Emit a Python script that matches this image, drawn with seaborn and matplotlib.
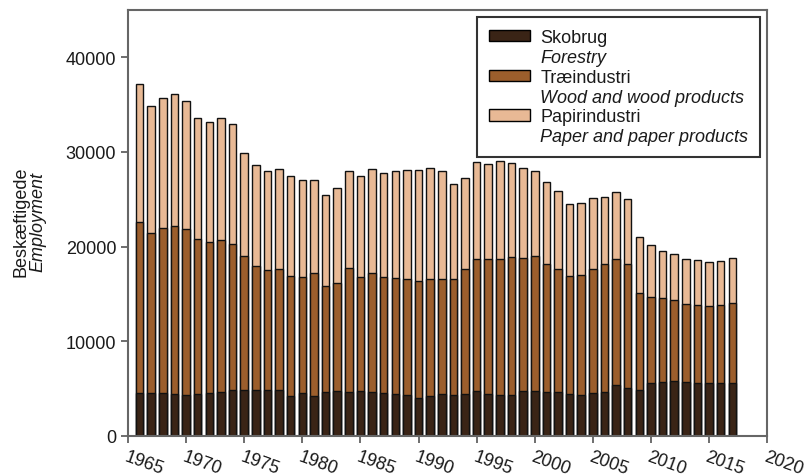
import numpy as np
import pandas as pd
import matplotlib
matplotlib.use("Agg")
import matplotlib.pyplot as plt
import seaborn as sns
from matplotlib.patches import Patch

years = list(range(1966, 2018))

# employment per sector (stacked components)
forestry = [4550, 4530, 4530, 4410, 4300, 4410, 4530, 4620, 4800, 4900,
            4800, 4870, 4870, 4270, 4550, 4270, 4660, 4730, 4660, 4730,
            4620, 4550, 4440, 4340, 4020, 4230, 4440, 4340, 4440, 4730,
            4440, 4340, 4340, 4730, 4730, 4620, 4620, 4440, 4340, 4510,
            4620, 5330, 5040, 4900, 5570, 5710, 5780, 5710, 5640, 5570,
            5610, 5610]
wood = [18100, 16920, 17480, 17810, 17530, 16440, 16000, 16090, 15480, 14110,
        13190, 12700, 12770, 12660, 12240, 12950, 11210, 11420, 13080, 12060,
        12560, 12200, 12210, 12270, 12310, 12310, 12100, 12270, 13200, 14000,
        14290, 14320, 14530, 14110, 14320, 13580, 13030, 12490, 12700, 13130,
        13510, 13330, 13130, 10200, 9140, 8820, 8540, 8260, 8190, 8150,
        8220, 8430]
paper = [14490, 13400, 13680, 13900, 13580, 12730, 12620, 12870, 12630, 10900,
         10610, 10400, 10540, 10550, 10230, 9870, 9630, 10000, 10200, 10690,
         11040, 11010, 11290, 11470, 11780, 11750, 11400, 10020, 9630, 10160,
         10020, 10370, 9950, 9450, 8990, 8660, 8240, 7620, 7580, 7510,
         7060, 7090, 6840, 5960, 5430, 5010, 4900, 4690, 4790, 4690,
         4650, 4800]

labels_dk = ["Skobrug", "Træindustri", "Papirindustri"]
labels_en = ["Forestry", "Wood and wood products", "Paper and paper products"]
colors = ["#3a2416", "#9c5e2c", "#e8b995"]

df = pd.DataFrame({"year": years, "forestry": forestry, "wood": wood, "paper": paper})
df["wood_top"] = df["forestry"] + df["wood"]
df["total"] = df["wood_top"] + df["paper"]

sns.set_style("white")
plt.rcParams["font.family"] = ["Liberation Sans", "DejaVu Sans"]
plt.rcParams["text.color"] = "#1a1a1a"

fig = plt.figure(figsize=(8.05, 4.77), dpi=100)
ax = fig.add_axes([0.159, 0.084, 0.794, 0.893])

for col, c in zip(["total", "wood_top", "forestry"], colors[::-1]):
    sns.barplot(data=df, x="year", y=col, native_scale=True, width=0.65,
                color=c, edgecolor="#111111", linewidth=1, saturation=1, ax=ax)

ax.set_xlim(1965, 2020)
ax.set_ylim(0, 45000)
ax.set_xticks(range(1965, 2021, 5))
ax.set_yticks(range(0, 40001, 10000))
ax.set_xlabel("")
ax.set_ylabel("")
ax.tick_params(axis="both", direction="out", length=5, width=1.2,
               color="#555555", labelcolor="#1a1a1a", labelsize=13,
               bottom=True, left=True)
for lab in ax.get_xticklabels():
    lab.set_rotation(-20)
    lab.set_ha("left")
    lab.set_va("top")
    lab.set_rotation_mode("anchor")
for s in ax.spines.values():
    s.set_color("#666666")
    s.set_linewidth(1.5)

fig.text(0.026, 0.535, "Beskæftigede", rotation=90, ha="center", va="center", fontsize=13)
fig.text(0.047, 0.535, "Employment", rotation=90, ha="center", va="center",
         fontsize=13, style="italic")

handles = []
labels = []
for dk, en, c in zip(labels_dk, labels_en, colors):
    handles.append(Patch(facecolor=c, edgecolor="black", linewidth=1))
    labels.append(dk)
    handles.append(Patch(facecolor="none", edgecolor="none"))
    labels.append(en)
leg = ax.legend(handles, labels, loc="upper right", fontsize=13, frameon=True,
                fancybox=False, edgecolor="black", labelspacing=0.16,
                handlelength=2.3, handleheight=0.6, borderaxespad=0.4,
                handletextpad=0.55, borderpad=0.65)
leg.get_frame().set_linewidth(1.5)
for i, t in enumerate(leg.get_texts()):
    if i % 2 == 1:
        t.set_fontstyle("italic")

fig.savefig("out.png", dpi=100)
